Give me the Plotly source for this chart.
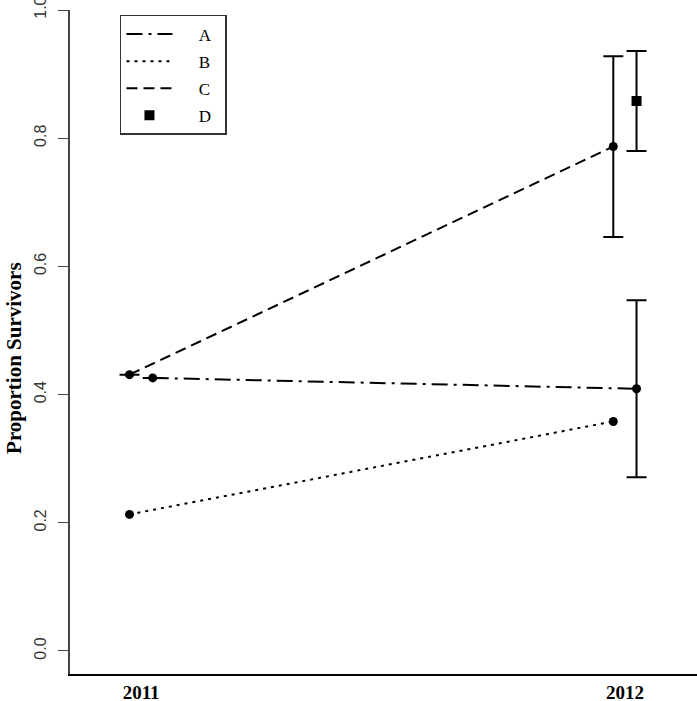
import plotly.graph_objects as go

# data
years = [2011, 2012]
offset = 0.024  # groups are nudged left/right of the year

A_y = [0.426, 0.409]
A_err = [None, 0.138]
B_y = [0.213, 0.358]
C_y = [0.431, 0.787]
C_err = [None, 0.141]
D_y = [0.858]
D_err = [0.078]

series = [
    ("A", +offset, A_y, A_err, "16px,6px,3px,6px"),
    ("B", -offset, B_y, None, "3px,5px"),
    ("C", -offset, C_y, C_err, "11px,6px"),
]

serif = "Liberation Serif, Times New Roman, serif"
sans = "Liberation Sans, Arial, sans-serif"


def label(name):
    # extra room between legend sample and label, and after the label
    return "\u00a0" * 5 + name + "\u00a0" * 2


fig = go.Figure()
for name, off, ys, err, dash in series:
    xs = [yr + off for yr in years]
    fig.add_trace(go.Scatter(
        x=xs, y=ys, mode="lines", name=label(name), legendgroup=name,
        line=dict(color="black", width=2, dash=dash),
    ))
    fig.add_trace(go.Scatter(
        x=xs, y=ys, mode="markers", showlegend=False, legendgroup=name,
        marker=dict(color="black", size=9, symbol="circle"),
        error_y=dict(type="data", array=err, visible=err is not None,
                     color="black", thickness=2, width=10),
    ))

fig.add_trace(go.Scatter(
    x=[years[1] + offset], y=D_y, mode="markers", name=label("D"), legendgroup="D",
    marker=dict(color="black", size=10, symbol="square"),
    error_y=dict(type="data", array=D_err, color="black", thickness=2, width=10),
))

fig.update_layout(
    width=697, height=701,
    margin=dict(l=70, r=0, t=10, b=27),
    plot_bgcolor="white", paper_bgcolor="white",
    legend=dict(
        x=0.0797, y=0.9925, xanchor="left", yanchor="top",
        bordercolor="#333", borderwidth=1.5, bgcolor="white",
        font=dict(family=serif, size=17, color="black"),
        itemwidth=46, tracegroupgap=2, traceorder="grouped",
    ),
    xaxis=dict(
        range=[2010.853, 2012.149], automargin=False,
        tickvals=years, ticktext=[str(y) for y in years],
        ticks="", showgrid=False, zeroline=False,
        showline=True, linecolor="black", linewidth=1.5,
        tickfont=dict(family=serif, size=19, color="black", weight="bold"),
    ),
    yaxis=dict(
        range=[-0.036, 1.0], automargin=False,
        tickvals=[0, 0.2, 0.4, 0.6, 0.8, 1.0],
        ticktext=["0.0", "0.2", "0.4", "0.6", "0.8", "1.0"],
        tickangle=-90, ticks="outside", ticklen=10, tickwidth=1, tickcolor="#444",
        ticklabelstandoff=6, ticklabeloverflow="allow",
        showgrid=False, zeroline=False,
        showline=True, linecolor="#444", linewidth=1.5,
        tickfont=dict(family=sans, size=16, color="#333"),
    ),
    annotations=[dict(
        text="Proportion Survivors", textangle=-90,
        xref="paper", yref="paper", x=0, y=0.476,
        xanchor="center", yanchor="middle", xshift=-56, showarrow=False,
        font=dict(family=serif, size=21, color="black", weight="bold"),
    )],
)

# drop the default 8px page margin so the figure fills the window
fig.write_html(
    "out.html",
    config={"displayModeBar": False},
    post_script="document.body.style.margin = '0';",
)
